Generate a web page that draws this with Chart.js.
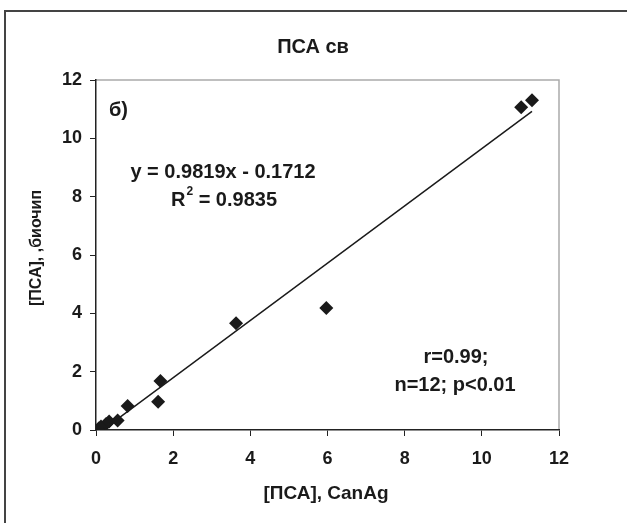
<!DOCTYPE html>
<html>
<head>
<meta charset="utf-8">
<script src="https://cdn.jsdelivr.net/npm/chart.js@4"></script>
<style>
  html, body { margin: 0; padding: 0; background: #fff; }
  #wrap { width: 627px; height: 523px; }
</style>
</head>
<body>
<div id="wrap"><canvas id="chart"></canvas></div>
<script>
// values
const canAg  = [0.07, 0.13, 0.26, 0.34, 0.56, 0.82, 1.61, 1.67, 3.63, 5.97, 11.02, 11.30];
const biochip = [0.05, 0.12, 0.21, 0.29, 0.33, 0.82, 0.97, 1.68, 3.66, 4.18, 11.07, 11.31];
const slope = 0.9819;
const intercept = -0.1712;
const xTicks = [0, 2, 4, 6, 8, 10, 12];
const yTicks = [0, 2, 4, 6, 8, 10, 12];

const points = canAg.map((x, i) => ({ x: x, y: biochip[i] }));
const xMin = Math.min(...canAg), xMax = Math.max(...canAg);
const trend = [xMin, xMax].map((x) => ({ x: x, y: slope * x + intercept }));

const FONT = "'Liberation Sans', Arial, sans-serif";

const textPlugin = {
  id: "texts",
  beforeDraw(chart) {
    const ctx = chart.ctx;
    const a = chart.chartArea;
    ctx.save();
    // outer frame
    ctx.strokeStyle = "#444";
    ctx.lineWidth = 2;
    ctx.beginPath();
    ctx.moveTo(5, 523);
    ctx.lineTo(5, 11);
    ctx.lineTo(627, 11);
    ctx.stroke();
    // plot area top/right border
    ctx.strokeStyle = "#aaa";
    ctx.lineWidth = 1.5;
    ctx.beginPath();
    ctx.moveTo(a.left, a.top);
    ctx.lineTo(a.right, a.top);
    ctx.lineTo(a.right, a.bottom);
    ctx.stroke();
    ctx.restore();
  },
  afterDraw(chart) {
    const ctx = chart.ctx;
    ctx.save();
    ctx.fillStyle = "#1a1a1a";
    ctx.textAlign = "center";
    ctx.textBaseline = "middle";
    ctx.font = "bold 20px " + FONT;
    ctx.fillText("ПСА св", 313, 47);
    ctx.font = "bold 19px " + FONT;
    ctx.fillText("[ПСА], CanAg", 326, 494);
    ctx.save();
    ctx.translate(37, 248);
    ctx.rotate(-Math.PI / 2);
    ctx.font = "bold 16px " + FONT;
    ctx.fillText("[ПСА], ,биочип", 0, 0);
    ctx.restore();

    ctx.font = "bold 20px " + FONT;
    ctx.textAlign = "left";
    ctx.fillText("б)", 109, 110);
    ctx.textAlign = "center";
    ctx.fillText("y = 0.9819x - 0.1712", 223, 172);

    // R² line, laid out piece by piece
    const big = "bold 20px " + FONT, small = "bold 12px " + FONT;
    ctx.font = big;
    const wR = ctx.measureText("R").width;
    const wRest = ctx.measureText(" = 0.9835").width;
    ctx.font = small;
    const w2 = ctx.measureText("2").width + 1;
    let x0 = 224 - (wR + w2 + wRest) / 2;
    ctx.textAlign = "left";
    ctx.font = big;
    ctx.fillText("R", x0, 200);
    ctx.font = small;
    ctx.fillText("2", x0 + wR + 1, 192);
    ctx.font = big;
    ctx.fillText(" = 0.9835", x0 + wR + w2, 200);

    ctx.textAlign = "center";
    ctx.fillText("r=0.99;", 456, 357);
    ctx.fillText("n=12; p<0.01", 455, 385);
    ctx.restore();
  },
};

new Chart(document.getElementById("chart"), {
  type: "scatter",
  data: {
    datasets: [
      {
        label: "points",
        data: points,
        pointStyle: "rectRot",
        pointRadius: 7,
        backgroundColor: "#1a1a1a",
        borderColor: "#1a1a1a",
        borderWidth: 0,
      },
      {
        label: "trend",
        type: "line",
        data: trend,
        borderColor: "#1a1a1a",
        borderWidth: 1.5,
        pointRadius: 0,
        fill: false,
      },
    ],
  },
  options: {
    responsive: true,
    maintainAspectRatio: false,
    animation: false,
    layout: { padding: { left: 0, top: 80, right: 68, bottom: 0 } },
    plugins: { legend: { display: false }, tooltip: { enabled: false } },
    scales: {
      x: {
        type: "linear",
        min: 0,
        max: 12,
        afterBuildTicks: (s) => { s.ticks = xTicks.map((v) => ({ value: v })); },
        afterFit: (s) => { s.height = 93; },
        grid: { drawOnChartArea: false, tickLength: 6, color: "#222" },
        border: { color: "#222", width: 1.5 },
        ticks: { color: "#1a1a1a", font: { family: FONT, size: 18, weight: "bold" }, padding: 12, maxRotation: 0 },
      },
      y: {
        type: "linear",
        min: 0,
        max: 12,
        afterBuildTicks: (s) => { s.ticks = yTicks.map((v) => ({ value: v })); },
        afterFit: (s) => { s.width = 96; },
        grid: { drawOnChartArea: false, tickLength: 6, color: "#222" },
        border: { color: "#222", width: 1.5 },
        ticks: { color: "#1a1a1a", font: { family: FONT, size: 18, weight: "bold" }, padding: 8 },
      },
    },
  },
  plugins: [textPlugin],
});
</script>
</body>
</html>
